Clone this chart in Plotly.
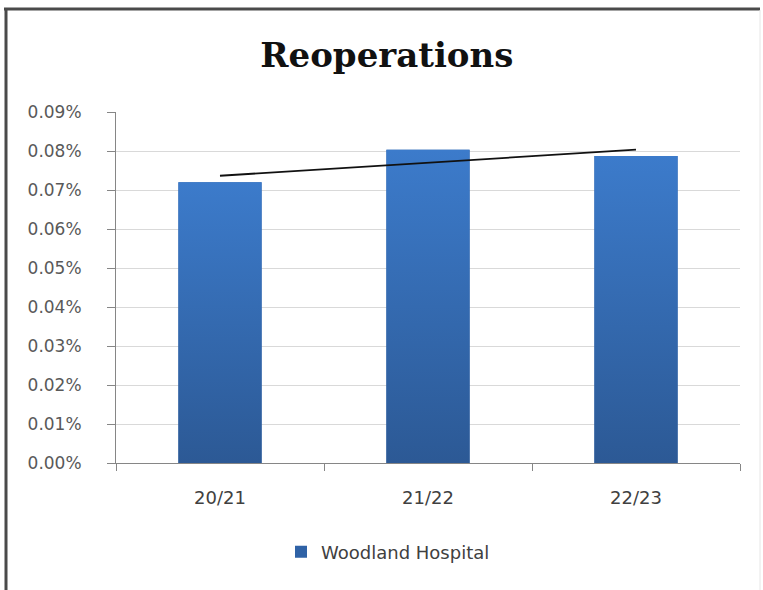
import numpy as np
import plotly.graph_objects as go

# Data
categories = ["20/21", "21/22", "22/23"]
reoperation_rate = [0.0720, 0.0803, 0.0787]   # percent
series_name = "Woodland Hospital"
y_ticks = [0.00, 0.01, 0.02, 0.03, 0.04, 0.05, 0.06, 0.07, 0.08, 0.09]

W, H = 763, 590
ML, MR, MT, MB = 116, 23, 112, 127
BAR_W = 0.4

x_idx = np.arange(len(categories))

fig = go.Figure()

# Base bars (also provide the legend swatch)
fig.add_trace(go.Bar(
    x=x_idx, y=reoperation_rate, width=BAR_W, name=series_name,
    marker=dict(color="#2F62A6", line=dict(width=0)),
    showlegend=True,
))

# Vertical gradient overlay for each bar
for xi, v in zip(x_idx, reoperation_rate):
    x0, x1 = xi - BAR_W / 2, xi + BAR_W / 2
    fig.add_trace(go.Scatter(
        x=[x0, x1, x1, x0, x0], y=[0, 0, v, v, 0],
        mode="lines", line=dict(width=0), fill="toself",
        fillgradient=dict(type="vertical",
                          colorscale=[[0, "#2C5995"], [1, "#3C7BCB"]]),
        hoverinfo="skip", showlegend=False,
    ))

# Linear trendline across the categories
slope, intercept = np.polyfit(x_idx, reoperation_rate, 1)
fig.add_trace(go.Scatter(
    x=[x_idx[0], x_idx[-1]],
    y=[intercept + slope * x_idx[0], intercept + slope * x_idx[-1]],
    mode="lines", line=dict(color="#111111", width=1.8),
    showlegend=False, hoverinfo="skip",
))

SANS = "DejaVu Sans, Noto Sans, sans-serif"

fig.update_layout(
    width=W, height=H,
    margin=dict(l=ML, r=MR, t=MT, b=MB),
    paper_bgcolor="white", plot_bgcolor="white",
    title=dict(text="<b>Reoperations</b>", x=0.507, xref="container",
               y=1 - 55 / H, yref="container", xanchor="center", yanchor="middle",
               font=dict(family="DejaVu Serif, serif", size=34, color="#111111")),
    showlegend=True,
    legend=dict(orientation="h", x=(388 - ML) / (W - ML - MR), xanchor="center",
                y=-(552 - (H - MB)) / (H - MT - MB), yanchor="middle",
                font=dict(family=SANS, size=18, color="#404040"),
                itemwidth=30),
    bargap=0.6,
)

fig.update_xaxes(
    range=[-0.5, len(categories) - 0.5],
    tickmode="array", tickvals=list(x_idx), ticktext=categories,
    ticks="", showgrid=False, zeroline=False,
    showline=True, linecolor="#868686", linewidth=1,
    tickfont=dict(family=SANS, size=18, color="#404040"),
    ticklabelstandoff=18,
    minor=dict(tickmode="array", tickvals=[-0.5, 0.5, 1.5, 2.5],
               ticks="outside", ticklen=7, tickcolor="#868686", tickwidth=1,
               showgrid=False),
)

fig.update_yaxes(
    range=[0, 0.09],
    tickmode="array", tickvals=y_ticks,
    ticktext=[f"{t:.2f}%" for t in y_ticks],
    ticks="outside", ticklen=8, tickcolor="#868686", tickwidth=1,
    showgrid=True, gridcolor="#D9D9D9", gridwidth=1,
    zeroline=False, showline=True, linecolor="#868686", linewidth=1,
    tickfont=dict(family=SANS, size=17, color="#595959"),
    ticklabelstandoff=22,
)

# Chart frame: dark top/left edges, faint right edge
pw, ph = W - ML - MR, H - MT - MB
def px_x(p):
    return (p - ML) / pw
def px_y(p):
    return (H - MB - p) / ph

fig.add_shape(type="line", xref="paper", yref="paper",
              x0=px_x(4), x1=px_x(760), y0=px_y(9), y1=px_y(9),
              line=dict(color="#4A4A4A", width=3))
fig.add_shape(type="line", xref="paper", yref="paper",
              x0=px_x(6), x1=px_x(6), y0=px_y(8), y1=px_y(592),
              line=dict(color="#4A4A4A", width=3))
fig.add_shape(type="line", xref="paper", yref="paper",
              x0=px_x(760), x1=px_x(760), y0=px_y(10), y1=px_y(592),
              line=dict(color="#E6E6E6", width=1))

fig.write_html("out.html")
